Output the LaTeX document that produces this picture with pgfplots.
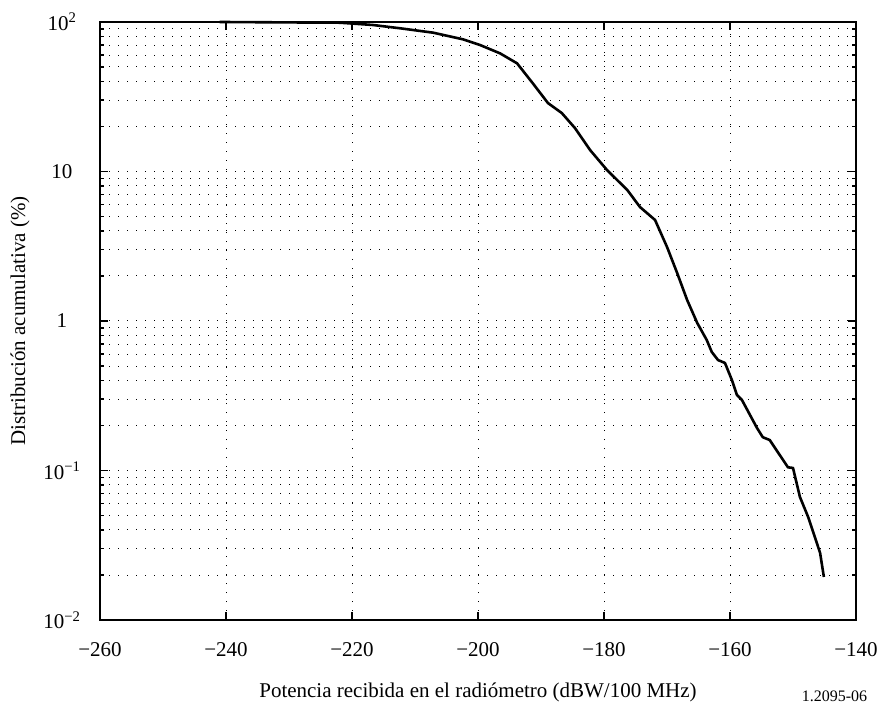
\documentclass[border=0pt]{standalone}
\usepackage{fontspec}
\setmainfont{Liberation Serif}
\usepackage{pgfplots}
\pgfplotsset{compat=1.18}

\pgfplotstableread{
x y
-241.0 100
-221.9 98.9
-216.7 95.5
-212.4 90.8
-207.1 84.8
-202.4 76.6
-199.7 70.2
-196.5 61.7
-193.8 52.9
-191.3 38.9
-188.9 28.7
-186.7 24.6
-184.6 19.5
-182.2 13.9
-179.5 10.2
-176.3 7.52
-174.3 5.79
-171.9 4.74
-170.0 3.13
-168.4 2.10
-166.8 1.38
-165.2 0.97
-163.7 0.747
-162.9 0.621
-161.9 0.548
-160.8 0.524
-159.7 0.403
-158.9 0.320
-158.1 0.296
-155.7 0.192
-154.8 0.167
-153.7 0.160
-150.8 0.105
-150.0 0.104
-148.9 0.0665
-147.6 0.0489
-145.7 0.0281
-145.1 0.0194
}\curve

\begin{document}
\begin{tikzpicture}
\begin{axis}[
  scale only axis, width=756pt, height=598pt,
  ymode=log,
  xmin=-260, xmax=-140, ymin=1e-2, ymax=1e2,
  xtick={-260,-240,...,-140},
  xticklabels={−260,−240,−220,−200,−180,−160,−140},
  ytick={1e-2,1e-1,1,10,100},
  yticklabels={10\textsuperscript{−2},10\textsuperscript{−1},1,10,10\textsuperscript{2}},
  tick align=inside,
  major tick length=8pt, minor tick length=4pt,
  every tick/.style={black, line width=1.6pt},
  axis line style={line width=2pt},
  grid=both,
  major grid style={black, line width=1pt, dash pattern=on 1pt off 8pt},
  minor grid style={black, line width=1pt, dash pattern=on 1pt off 8pt},
  tick label style={font=\fontsize{21}{25}\selectfont},
  xticklabel style={anchor=center, yshift=-30pt},
  yticklabel style={anchor=center, xshift=-38pt},
  xlabel={Potencia recibida en el radiómetro (dBW/100 MHz)},
  ylabel={Distribución acumulativa (\%)},
  every axis x label/.style={at={(axis description cs:0.5,-0.1204)}, anchor=center, font=\fontsize{21}{25}\selectfont},
  every axis y label/.style={at={(axis description cs:-0.1058,0.5)}, anchor=center, rotate=90, font=\fontsize{21}{25}\selectfont},
  clip=false,
]
\addplot[black, line width=2.6pt, line join=round] table[x=x, y=y] {\curve};
\node[anchor=north west, font=\fontsize{16}{19}\selectfont, inner sep=0pt] at (axis description cs:0.928,-0.118) {1.2095-06};
\end{axis}
\pgfresetboundingbox
\path[use as bounding box] (-100pt,-89pt) rectangle (785pt,620pt);
\end{tikzpicture}
\end{document}
